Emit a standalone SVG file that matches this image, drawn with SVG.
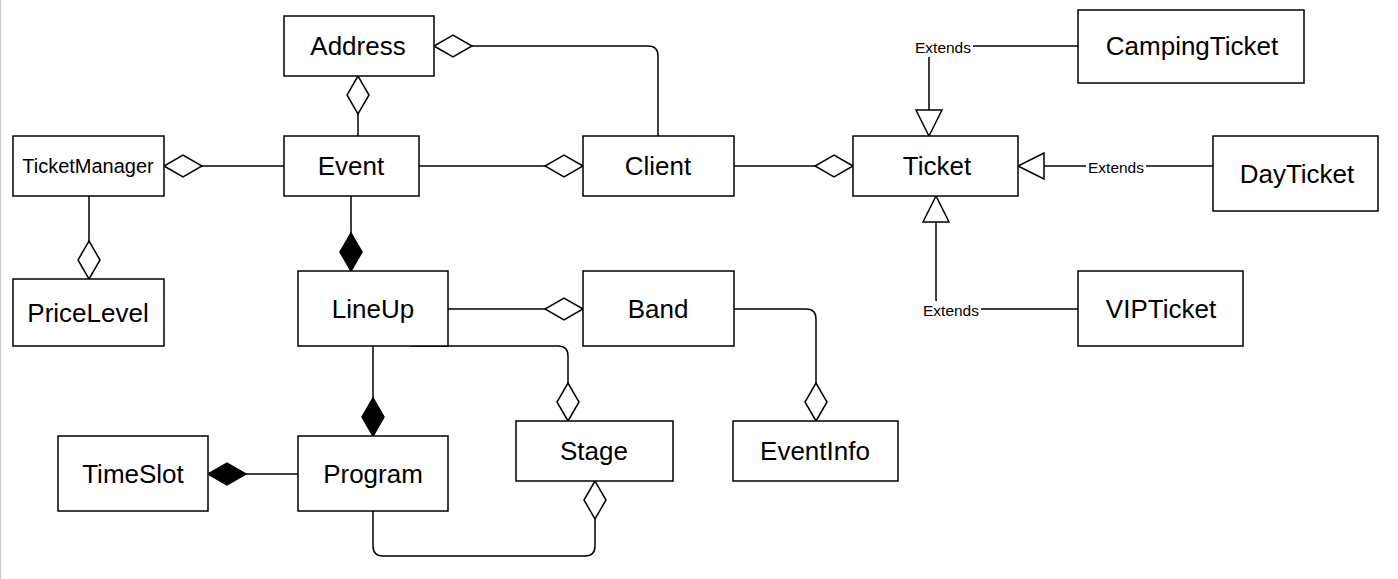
<svg xmlns="http://www.w3.org/2000/svg" width="1398" height="579" viewBox="0 0 1398 579">
<style>
.box{fill:#fff;stroke:#000;stroke-width:1.5}
.t{font-family:"Liberation Sans",Arial,sans-serif;font-size:26px;fill:#000;text-anchor:middle}
.ts{font-size:20px}
.lbl{font-family:"Liberation Sans",Arial,sans-serif;font-size:15.5px;fill:#000;text-anchor:middle}
.c{fill:none;stroke:#000;stroke-width:1.5}
.agg{marker-end:url(#hd)}
.comp{marker-end:url(#fd)}
.gen{marker-end:url(#tri)}
</style>
<defs>
<marker id="hd" viewBox="-40 -13 42 26" refX="0" refY="0" markerWidth="42" markerHeight="26" markerUnits="userSpaceOnUse" orient="auto" overflow="visible">
<path d="M0,0 L-19,-11 L-38,0 L-19,11 Z" fill="#fff" stroke="#000" stroke-width="1.5"/>
</marker>
<marker id="fd" viewBox="-40 -13 42 26" refX="0" refY="0" markerWidth="42" markerHeight="26" markerUnits="userSpaceOnUse" orient="auto" overflow="visible">
<path d="M0,0 L-19,-11 L-38,0 L-19,11 Z" fill="#000" stroke="#000" stroke-width="1.5"/>
</marker>
<marker id="tri" viewBox="-28 -15 30 30" refX="0" refY="0" markerWidth="30" markerHeight="30" markerUnits="userSpaceOnUse" orient="auto" overflow="visible">
<path d="M0,0 L-26,-13 L-26,13 Z" fill="#fff" stroke="#000" stroke-width="1.5"/>
</marker>
</defs>
<rect x="0" y="0" width="1398" height="579" fill="#fff"/>
<line x1="0.5" y1="0" x2="0.5" y2="579" stroke="#cfcfcf" stroke-width="1.5"/>
<g id="connectors">
<path class="c agg" d="M658,136 V56 Q658,46 648,46 H434"/>
<path class="c agg" d="M358,136 V76"/>
<path class="c agg" d="M284,166 H164"/>
<path class="c agg" d="M419,166 H583"/>
<path class="c agg" d="M734,166 H853"/>
<path class="c agg" d="M89,196 V279"/>
<path class="c comp" d="M351,196 V271"/>
<path class="c agg" d="M448,309 H583"/>
<path class="c agg" d="M411,346 H558 Q568,346 568,356 V421"/>
<path class="c agg" d="M734,309 H806 Q816,309 816,319 V421"/>
<path class="c comp" d="M373,346 V436"/>
<path class="c comp" d="M298,474 H208"/>
<path class="c agg" d="M373,511 V546 Q373,556 383,556 H585 Q595,556 595,546 V481"/>
<path class="c gen" d="M1078,46 H929 V136"/>
<path class="c gen" d="M1213,166 H1018"/>
<path class="c gen" d="M1078,309 H946 Q936,309 936,299 V196"/>
<g>
<rect x="913" y="38" width="60" height="19" fill="#fff"/>
<text class="lbl" x="943" y="53">Extends</text>
<rect x="1086" y="158" width="60" height="19" fill="#fff"/>
<text class="lbl" x="1116" y="173">Extends</text>
<rect x="921" y="301" width="60" height="19" fill="#fff"/>
<text class="lbl" x="951" y="316">Extends</text>
</g>
</g>
<g id="Address"><rect class="box" x="284" y="16" width="150" height="60"/><text class="t" x="358" y="55">Address</text></g>
<g id="Event"><rect class="box" x="284" y="136" width="135" height="60"/><text class="t" x="351" y="175">Event</text></g>
<g id="TicketManager"><rect class="box" x="13" y="136" width="151" height="60"/><text class="t ts" x="88" y="173">TicketManager</text></g>
<g id="Client"><rect class="box" x="583" y="136" width="151" height="60"/><text class="t" x="658" y="175">Client</text></g>
<g id="Ticket"><rect class="box" x="853" y="136" width="165" height="60"/><text class="t" x="937" y="175">Ticket</text></g>
<g id="CampingTicket"><rect class="box" x="1078" y="10" width="226" height="73"/><text class="t" x="1192" y="55">CampingTicket</text></g>
<g id="DayTicket"><rect class="box" x="1213" y="136" width="165" height="75"/><text class="t" x="1297" y="183">DayTicket</text></g>
<g id="VIPTicket"><rect class="box" x="1078" y="271" width="165" height="75"/><text class="t" x="1161" y="318">VIPTicket</text></g>
<g id="PriceLevel"><rect class="box" x="13" y="279" width="151" height="67"/><text class="t" x="88" y="322">PriceLevel</text></g>
<g id="LineUp"><rect class="box" x="298" y="271" width="150" height="75"/><text class="t" x="373" y="318">LineUp</text></g>
<g id="Band"><rect class="box" x="583" y="271" width="151" height="75"/><text class="t" x="658" y="318">Band</text></g>
<g id="Stage"><rect class="box" x="516" y="421" width="157" height="60"/><text class="t" x="594" y="460">Stage</text></g>
<g id="EventInfo"><rect class="box" x="733" y="421" width="165" height="60"/><text class="t" x="815" y="460">EventInfo</text></g>
<g id="TimeSlot"><rect class="box" x="58" y="436" width="150" height="75"/><text class="t" x="133" y="483">TimeSlot</text></g>
<g id="Program"><rect class="box" x="298" y="436" width="150" height="75"/><text class="t" x="373" y="483">Program</text></g>
</svg>
